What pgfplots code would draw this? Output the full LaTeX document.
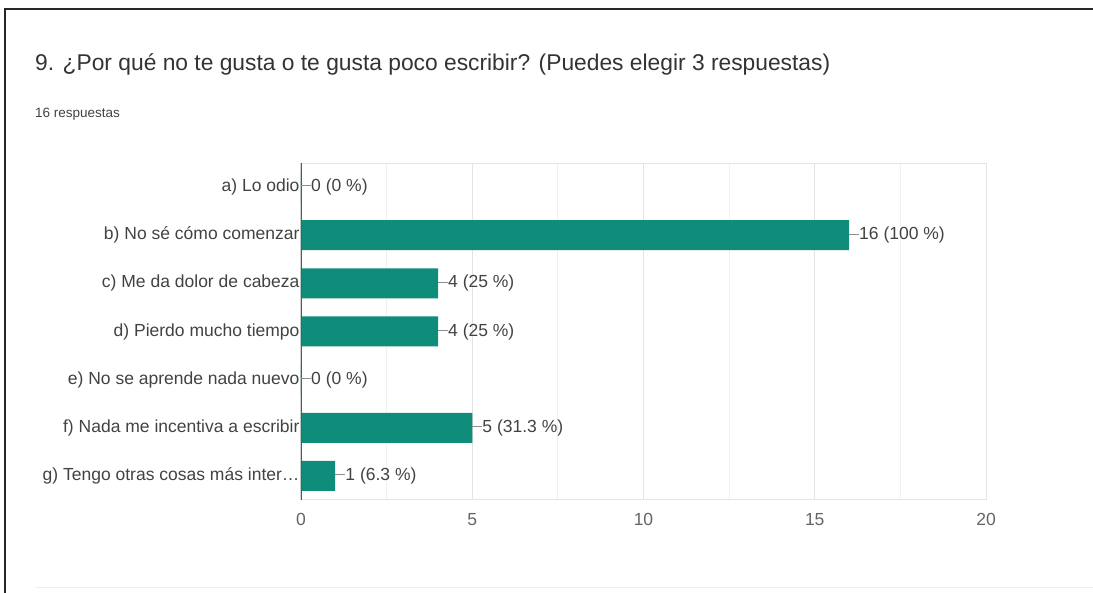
\documentclass[border=0pt]{standalone}
\usepackage{pgfplots}
\pgfplotsset{compat=1.18}
\usepackage{pgfplotstable}
\usepackage{fontspec}
\setmainfont{Liberation Sans}
\definecolor{barc}{RGB}{16,140,122}
\definecolor{txt}{RGB}{66,66,66}
\definecolor{ticktxt}{RGB}{100,100,100}
\definecolor{gridc}{RGB}{228,228,228}

\pgfplotstableread[col sep=comma]{
y,x,label
0,0,0 (0 \%)
1,16,16 (100 \%)
2,4,4 (25 \%)
3,4,4 (25 \%)
4,0,0 (0 \%)
5,5,5 (31.3 \%)
6,1,1 (6.3 \%)
}\datatable

\begin{document}
\begin{tikzpicture}
\useasboundingbox (0pt,0pt) rectangle (1093pt,593pt);
\draw[gridc!60, line width=1pt] (35pt,5pt) -- (1093pt,5pt);
\draw[black!85, line width=2pt] (5pt,0pt) -- (5pt,584pt) -- (1093pt,584pt);
\node[anchor=base west, inner sep=0pt, text=black!80, font=\fontsize{22.8}{26}\selectfont] at (35pt,522pt)
  {9. ¿Por qué no te gusta o te gusta poco escribir? (Puedes elegir 3 respuestas)};
\node[anchor=base west, inner sep=0pt, text=txt, font=\fontsize{13.5}{16}\selectfont] at (35pt,475pt)
  {16 respuestas};
\begin{axis}[
  at={(301pt,93pt)}, anchor=south west,
  scale only axis, width=685pt, height=337pt,
  xmin=0, xmax=20, ymin=-0.5, ymax=6.5,
  y dir=reverse,
  xbar, bar width=30pt,
  xtick={0,5,10,15,20},
  minor x tick num=1,
  ytick={0,1,2,3,4,5,6},
  yticklabels={a) Lo odio, b) No sé cómo comenzar, c) Me da dolor de cabeza, d) Pierdo mucho tiempo, e) No se aprende nada nuevo, f) Nada me incentiva a escribir, {g) Tengo otras cosas más inter\ldots}},
  /pgf/number format/assume math mode=true,
  xmajorgrids, xminorgrids,
  major grid style={gridc, line width=1pt},
  minor grid style={gridc!55, line width=1pt},
  axis line style={draw=none},
  major tick length=0pt, minor tick length=0pt,
  tick label style={font=\fontsize{17.5}{20}\selectfont},
  xticklabel style={text=ticktxt, yshift=-10pt},
  yticklabel style={text=txt, xshift=2pt},
  point meta=explicit symbolic,
  nodes near coords={\textcolor{txt!60}{\rule[0.3em]{10pt}{0.9pt}}\pgfplotspointmeta},
  nodes near coords align={horizontal},
  every node near coord/.append style={font=\fontsize{17.5}{20}\selectfont, text=txt, inner sep=0pt, anchor=west},
]
\draw[gridc, line width=1pt] (rel axis cs:0,0) -- (rel axis cs:1,0);
\draw[gridc, line width=1pt] (rel axis cs:0,1) -- (rel axis cs:1,1);
\addplot[fill=barc, draw=none] table[x=x, y=y, meta=label] {\datatable};
\draw[black!65, line width=1.3pt] (axis cs:0,-0.5) -- (axis cs:0,6.9);
\end{axis}
\end{tikzpicture}
\end{document}
